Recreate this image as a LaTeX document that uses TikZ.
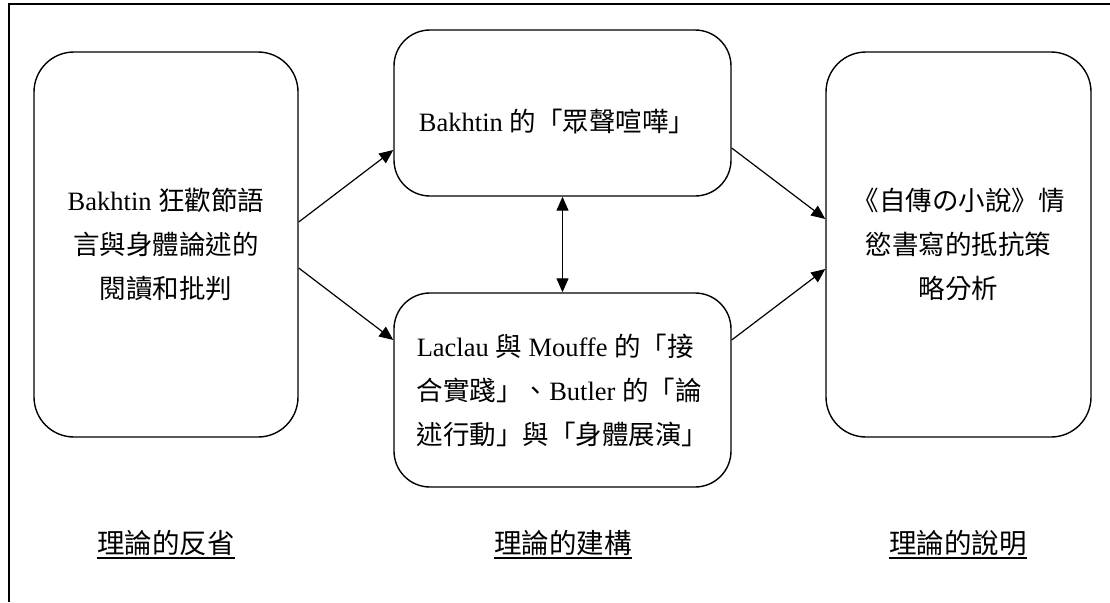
\documentclass[tikz,border=0pt]{standalone}
\usepackage{fontspec}
\setmainfont{Liberation Serif}
\newfontfamily\cjk{Noto Sans CJK TC}
\usetikzlibrary{arrows.meta}
\newcommand{\zh}[1]{{\cjk #1}}
\begin{document}
\begin{tikzpicture}[x=1pt,y=-1pt,
 box/.style={draw,line width=1.4pt,rounded corners=36pt,inner sep=0},
 txt/.style={font=\fontsize{26.5}{44}\selectfont,inner sep=0},
 arr/.style={line width=1.2pt,-{Triangle[length=14pt,width=12pt]}},
 dbl/.style={line width=1.2pt,{Triangle[length=14pt,width=12pt]}-{Triangle[length=14pt,width=12pt]}},
 lab/.style={font=\fontsize{27.5}{30}\selectfont,inner sep=0},
 uline/.style={line width=1.6pt}]
\useasboundingbox (0,0) rectangle (1110,602);
\coordinate (fa) at (9,602);
\coordinate (fb) at (9,4);
\coordinate (fc) at (1110,4);
\draw[line width=1.6pt] (fa) -- (fb) -- (fc);

\node[box,txt,align=center,minimum width=264pt,minimum height=385pt,rounded corners=40pt] (b1) at (166,244.5)
 {Bakhtin \zh{狂歡節語}\\\zh{言與身體論述的}\\\zh{閱讀和批判}};
\node[box,minimum width=337pt,minimum height=166pt] (b2) at (562.5,113) {};
\node[txt] (t2) at (557,122) {Bakhtin \zh{的「眾聲喧嘩」}};
\node[box,txt,align=left,minimum width=337pt,minimum height=194pt] (b3) at (562.5,390)
 {Laclau \zh{與} Mouffe \zh{的「接}\\\zh{合實踐」、}Butler \zh{的「論}\\\zh{述行動」與「身體展演」}};
\node[box,txt,align=center,minimum width=265pt,minimum height=385pt,rounded corners=40pt] (b4) at (958.5,244.5)
 {\zh{《自傳の小說》情}\\\zh{慾書寫的抵抗策}\\\zh{略分析}};

\draw[arr] ([yshift=22.5pt]b1.east) -- ([yshift=-37pt]b2.west);
\draw[arr] ([yshift=-23.5pt]b1.east) -- ([yshift=50pt]b3.west);
\draw[arr] ([yshift=-35pt]b2.east) -- ([yshift=25.5pt]b4.west);
\draw[arr] ([yshift=50pt]b3.east) -- ([yshift=-24.5pt]b4.west);
\draw[dbl] (b2.south) -- (b3.north);

\node[lab] (l1) at (166,543) {\zh{理論的反省}};
\node[lab] (l2) at (563,543) {\zh{理論的建構}};
\node[lab] (l3) at (958,543) {\zh{理論的說明}};
\draw[uline] ([yshift=-2pt]l1.south west) -- ([yshift=-2pt]l1.south east);
\draw[uline] ([yshift=-2pt]l2.south west) -- ([yshift=-2pt]l2.south east);
\draw[uline] ([yshift=-2pt]l3.south west) -- ([yshift=-2pt]l3.south east);
\end{tikzpicture}
\end{document}
